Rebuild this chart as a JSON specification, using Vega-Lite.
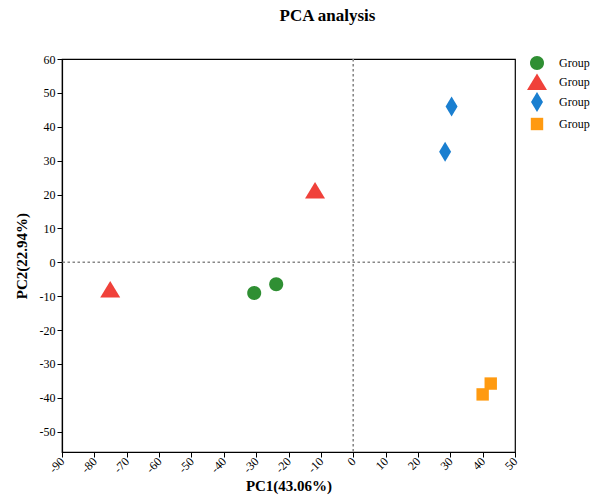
{
  "$schema": "https://vega.github.io/schema/vega-lite/v6.json",
  "autosize": {"type": "none"},
  "padding": {"left": 62, "top": 59, "right": 75, "bottom": 51},
  "width": 453,
  "height": 393,
  "background": "white",
  "title": {
    "text": "PCA analysis",
    "font": "Liberation Serif",
    "fontSize": 17,
    "fontWeight": "bold",
    "color": "#000",
    "anchor": "middle",
    "dx": 39,
    "offset": 28
  },
  "config": {
    "view": {"stroke": "#000", "strokeWidth": 1.2},
    "axis": {
      "labelFont": "Liberation Serif",
      "titleFont": "Liberation Serif",
      "labelFontSize": 12,
      "titleFontSize": 15,
      "titleFontWeight": "bold",
      "labelColor": "#000",
      "titleColor": "#000",
      "domainColor": "#000",
      "domainWidth": 1.2,
      "tickColor": "#000",
      "grid": false,
      "tickSize": 5
    }
  },
  "data": {
    "values": [
      {"group": "Group1", "PC1": -30.6, "PC2": -9.1},
      {"group": "Group1", "PC1": -23.8, "PC2": -6.5},
      {"group": "Group2", "PC1": -75.1, "PC2": -8.0},
      {"group": "Group2", "PC1": -11.8, "PC2": 21.2},
      {"group": "Group3", "PC1": 30.4, "PC2": 46.0},
      {"group": "Group3", "PC1": 28.4, "PC2": 32.6},
      {"group": "Group4", "PC1": 42.5, "PC2": -35.8},
      {"group": "Group4", "PC1": 40.0, "PC2": -39.0}
    ]
  },
  "layer": [
    {
      "mark": {"type": "point", "filled": true, "opacity": 1, "size": 400, "strokeWidth": 0},
      "encoding": {
        "x": {
          "field": "PC1", "type": "quantitative",
          "scale": {"domain": [-90, 50], "nice": false, "zero": false},
          "axis": {"title": "PC1(43.06%)", "values": [-90,-80,-70,-60,-50,-40,-30,-20,-10,0,10,20,30,40,50], "labelAngle": -45, "labelAlign": "right", "labelBaseline": "middle", "titlePadding": 4, "labelOverlap": false, "labelFlush": false, "labelExpr": "toString(datum.value)"}
        },
        "y": {
          "field": "PC2", "type": "quantitative",
          "scale": {"domain": [-56, 60], "nice": false, "zero": false},
          "axis": {"title": "PC2(22.94%)", "values": [-50,-40,-30,-20,-10,0,10,20,30,40,50,60], "titlePadding": 10, "labelOverlap": false, "labelFlush": false, "labelExpr": "toString(datum.value)"}
        },
        "color": {
          "field": "group", "type": "nominal",
          "scale": {"domain": ["Group1","Group2","Group3","Group4"], "range": ["#2f8f33","#f0413a","#1a7fd0","#ff9a10"]},
          "legend": {"title": null, "orient": "none", "legendX": 465, "legendY": -6, "symbolSize": 400, "labelFont": "Liberation Serif", "labelFontSize": 12, "labelColor": "#000", "labelOffset": 12, "rowPadding": 2, "symbolStrokeWidth": 0}
        },
        "shape": {
          "field": "group", "type": "nominal",
          "scale": {"domain": ["Group1","Group2","Group3","Group4"], "range": [
            "M-0.7,0A0.7,0.7 0 1,0 0.7,0A0.7,0.7 0 1,0 -0.7,0Z",
            "M0,-0.85L1,0.8L-1,0.8Z",
            "M0,-1L0.6,0L0,1L-0.6,0Z",
            "M-0.62,-0.62L0.62,-0.62L0.62,0.62L-0.62,0.62Z"
          ]},
          "legend": null
        }
      }
    },
    {
      "mark": {"type": "rule", "color": "#888", "strokeDash": [2.5, 2.5], "strokeWidth": 1.6},
      "data": {"values": [{"PC1": 0}]},
      "encoding": {
        "x": {
          "field": "PC1", "type": "quantitative",
          "axis": {"title": "PC1(43.06%)", "values": [-90,-80,-70,-60,-50,-40,-30,-20,-10,0,10,20,30,40,50], "labelAngle": -45, "labelAlign": "right", "labelBaseline": "middle", "titlePadding": 4, "labelOverlap": false, "labelFlush": false, "labelExpr": "toString(datum.value)"}
        }
      }
    },
    {
      "mark": {"type": "rule", "color": "#888", "strokeDash": [2.5, 2.5], "strokeWidth": 1.6},
      "data": {"values": [{"PC2": 0}]},
      "encoding": {
        "y": {
          "field": "PC2", "type": "quantitative",
          "axis": {"title": "PC2(22.94%)", "values": [-50,-40,-30,-20,-10,0,10,20,30,40,50,60], "titlePadding": 10, "labelOverlap": false, "labelFlush": false, "labelExpr": "toString(datum.value)"}
        }
      }
    }
  ]
}
